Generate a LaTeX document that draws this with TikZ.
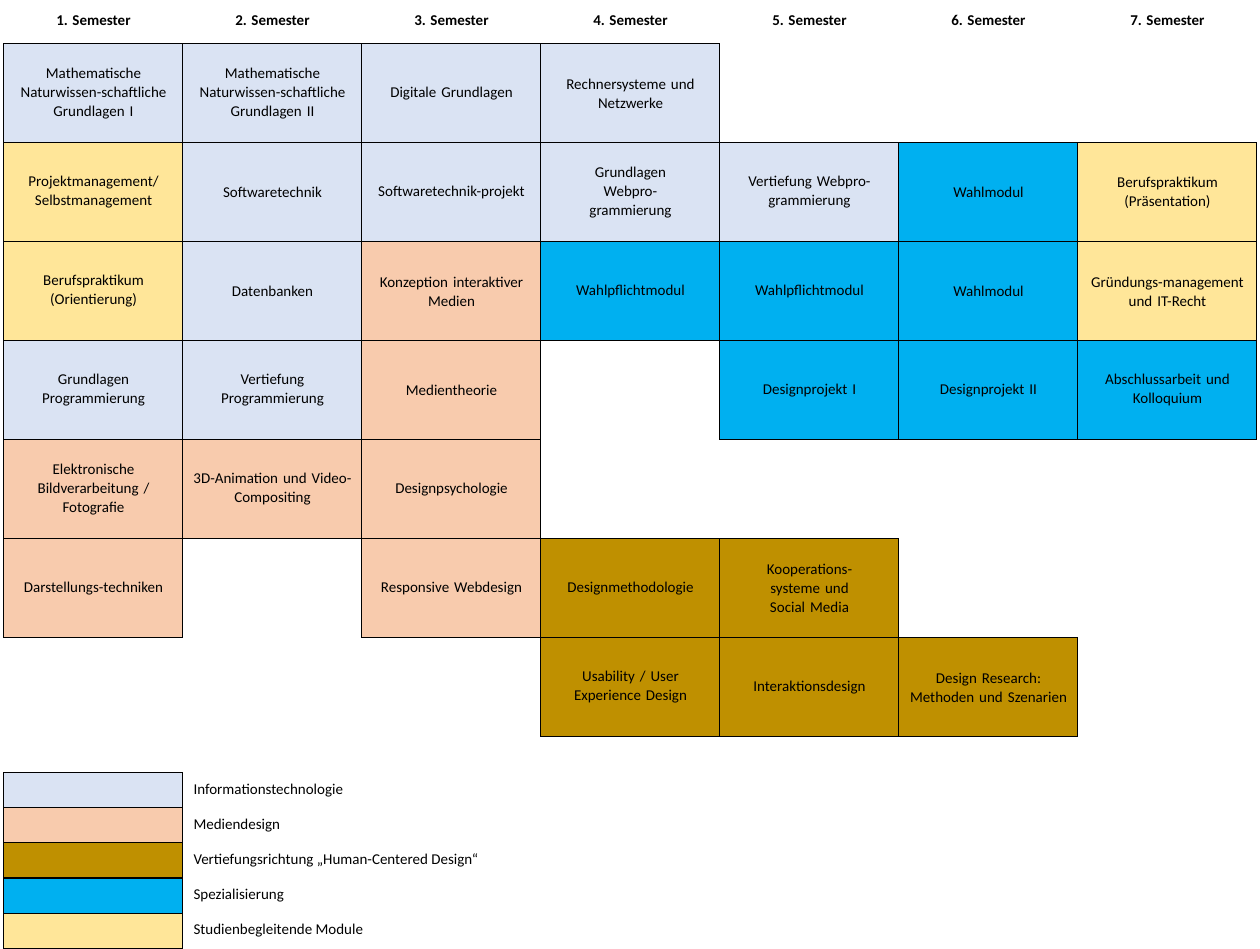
\documentclass[tikz,border=0pt]{standalone}
\usepackage{fontspec}
\setmainfont{Carlito}
\definecolor{itblue}{HTML}{DAE3F3}
\definecolor{mdrose}{HTML}{F8CBAD}
\definecolor{hcgold}{HTML}{BF9000}
\definecolor{spcyan}{HTML}{00B0F0}
\definecolor{sbyellow}{HTML}{FFE699}
\tikzset{
  modul/.style={draw, line width=1pt, minimum width=179pt, minimum height=99pt,
    inner sep=0pt, text width=172pt, align=center, font=\fontsize{15}{19}\selectfont},
  it/.style={modul, fill=itblue},
  md/.style={modul, fill=mdrose},
  hc/.style={modul, fill=hcgold},
  sp/.style={modul, fill=spcyan},
  sb/.style={modul, fill=sbyellow},
  kopf/.style={font=\fontsize{15}{19}\selectfont\bfseries},
  legbox/.style={draw, line width=1pt, minimum width=179pt, minimum height=35pt, inner sep=0pt},
  legtext/.style={anchor=west, font=\fontsize{15}{19}\selectfont}
}
\begin{document}
\begin{tikzpicture}[x=179pt, y=-99pt]
    \useasboundingbox (-0.0223,-0.444) rectangle (7.017,9.141);

    % Semester header
    \foreach \s in {1,...,7}
        \node[kopf] (sem\s) at (\s-0.5,-0.24) {\s. Semester};

    % 1. Semester
    \node[it] (m11) at (0.5,0.5) {Mathematische\\Naturwissen-schaftliche\\Grundlagen I};
    \node[sb] (m12) at (0.5,1.5) {Projektmanagement/\\Selbstmanagement};
    \node[sb] (m13) at (0.5,2.5) {Berufspraktikum\\(Orientierung)};
    \node[it] (m14) at (0.5,3.5) {Grundlagen\\Programmierung};
    \node[md] (m15) at (0.5,4.5) {Elektronische\\Bildverarbeitung /\\Fotografie};
    \node[md] (m16) at (0.5,5.5) {Darstellungs-techniken};

    % 2. Semester
    \node[it] (m21) at (1.5,0.5) {Mathematische\\Naturwissen-schaftliche\\Grundlagen II};
    \node[it] (m22) at (1.5,1.5) {Softwaretechnik};
    \node[it] (m23) at (1.5,2.5) {Datenbanken};
    \node[it] (m24) at (1.5,3.5) {Vertiefung\\Programmierung};
    \node[md] (m25) at (1.5,4.5) {3D-Animation und Video-\\Compositing};

    % 3. Semester
    \node[it] (m31) at (2.5,0.5) {Digitale Grundlagen};
    \node[it] (m32) at (2.5,1.5) {Softwaretechnik-projekt};
    \node[md] (m33) at (2.5,2.5) {Konzeption interaktiver\\Medien};
    \node[md] (m34) at (2.5,3.5) {Medientheorie};
    \node[md] (m35) at (2.5,4.5) {Designpsychologie};
    \node[md] (m36) at (2.5,5.5) {Responsive Webdesign};

    % 4. Semester
    \node[it] (m41) at (3.5,0.5) {Rechnersysteme und\\Netzwerke};
    \node[it] (m42) at (3.5,1.5) {Grundlagen\\Webpro-\\grammierung};
    \node[sp] (m43) at (3.5,2.5) {Wahlpflichtmodul};
    \node[hc] (m46) at (3.5,5.5) {Designmethodologie};
    \node[hc] (m47) at (3.5,6.5) {Usability / User\\Experience Design};

    % 5. Semester
    \node[it] (m52) at (4.5,1.5) {Vertiefung Webpro-\\grammierung};
    \node[sp] (m53) at (4.5,2.5) {Wahlpflichtmodul};
    \node[sp] (m54) at (4.5,3.5) {Designprojekt I};
    \node[hc] (m56) at (4.5,5.5) {Kooperations-\\systeme und\\Social Media};
    \node[hc] (m57) at (4.5,6.5) {Interaktionsdesign};

    % 6. Semester
    \node[sp] (m62) at (5.5,1.5) {Wahlmodul};
    \node[sp] (m63) at (5.5,2.5) {Wahlmodul};
    \node[sp] (m64) at (5.5,3.5) {Designprojekt II};
    \node[hc] (m67) at (5.5,6.5) {Design Research:\\Methoden und Szenarien};

    % 7. Semester
    \node[sb] (m72) at (6.5,1.5) {Berufspraktikum\\(Präsentation)};
    \node[sb] (m73) at (6.5,2.5) {Gründungs-management\\und IT-Recht};
    \node[sp] (m74) at (6.5,3.5) {Abschlussarbeit und\\Kolloquium};

    % Legende
    \node[legbox, fill=itblue] (l1) at (0.5,7.54) {};
    \node[legbox, fill=mdrose] (l2) at (0.5,7.894) {};
    \node[legbox, fill=hcgold] (l3) at (0.5,8.248) {};
    \node[legbox, fill=spcyan] (l4) at (0.5,8.602) {};
    \node[legbox, fill=sbyellow] (l5) at (0.5,8.956) {};
    \node[legtext] (t1) at (1.039,7.54) {Informationstechnologie};
    \node[legtext] (t2) at (1.039,7.894) {Mediendesign};
    \node[legtext] (t3) at (1.039,8.248) {Vertiefungsrichtung „Human-Centered Design“};
    \node[legtext] (t4) at (1.039,8.602) {Spezialisierung};
    \node[legtext] (t5) at (1.039,8.956) {Studienbegleitende Module};
\end{tikzpicture}
\end{document}
